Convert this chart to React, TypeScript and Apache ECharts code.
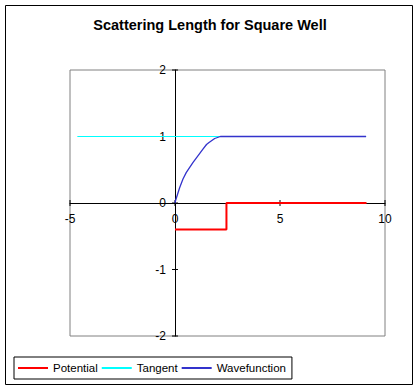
import React, { useEffect, useRef } from "react";
import * as echarts from "echarts";

const titleText = "Scattering Length for Square Well";
const seriesNames = ["Potential", "Tangent", "Wavefunction"];
const potentialX = [0, 2.45, 2.45, 9.12];
const potentialY = [-0.4, -0.4, 0, 0];
const tangentX = [-4.65, 9.1];
const tangentY = [1, 1];
const waveX = [0, 0.02, 0.22, 0.38, 0.54, 0.86, 1.02, 1.33, 1.5, 1.62, 1.89, 2.16, 2.24, 9.1];
const waveY = [0, 0.03, 0.23, 0.36, 0.46, 0.61, 0.68, 0.81, 0.88, 0.91, 0.97, 1.0, 1.0, 1.0];
const xMin = -5, xMax = 10, xStep = 5;
const yMin = -2, yMax = 2, yStep = 1;
const xTickValues = [-5, 0, 5, 10];
const yTickValues = [-2, -1, 0, 1, 2];

const pairs = (xs: number[], ys: number[]) => xs.map((x, i) => [x, ys[i]]);

export default function App() {
  const ref = useRef<HTMLDivElement>(null);
  useEffect(() => {
    if (!ref.current) return;
    const chart = echarts.init(ref.current, null, { renderer: "svg" });
    const font = "Liberation Sans, Arial, sans-serif";
    const axisLine = { show: true, onZero: true, lineStyle: { color: "#000", width: 1 } };
    const tickData = [
      ...xTickValues.map((v) => [v, 0, 0]),
      ...yTickValues.map((v) => [0, v, 1]),
    ];
    chart.setOption({
      animation: false,
      backgroundColor: "#fff",
      textStyle: { fontFamily: font },
      graphic: [
        {
          type: "rect",
          shape: { x: 5.5, y: 5.5, width: 407, height: 379 },
          style: { fill: "none", stroke: "#000", lineWidth: 1 },
          z: -1,
        },
      ],
      title: {
        text: titleText,
        left: "center",
        top: 12,
        textStyle: { fontSize: 14.5, fontWeight: "bold", color: "#000", fontFamily: font },
      },
      legend: {
        left: 14,
        top: 357,
        orient: "horizontal",
        borderColor: "#000",
        borderWidth: 1,
        padding: [5, 6, 5, 4],
        itemGap: 4,
        itemWidth: 30,
        itemHeight: 2,
        icon: "rect",
        textStyle: { fontSize: 11.5, color: "#000", fontFamily: font },
        data: seriesNames,
      },
      grid: {
        left: 70,
        right: 35,
        top: 70,
        bottom: 55,
        show: true,
        borderColor: "#808080",
        borderWidth: 1,
        backgroundColor: "transparent",
      },
      xAxis: {
        type: "value",
        min: xMin,
        max: xMax,
        interval: xStep,
        axisLine,
        axisTick: { show: false },
        axisLabel: { show: false },
        splitLine: { show: false },
      },
      yAxis: {
        type: "value",
        min: yMin,
        max: yMax,
        interval: yStep,
        axisLine,
        axisTick: { show: false },
        axisLabel: { show: false },
        splitLine: { show: false },
      },
      series: [
        {
          type: "custom",
          silent: true,
          data: tickData,
          z: 2,
          renderItem: (params: any, api: any) => {
            const v0 = api.value(0);
            const v1 = api.value(1);
            const p = api.coord([v0, v1]);
            const vertical = api.value(2) === 0;
            const shape = vertical
              ? { x1: p[0], y1: p[1] - 3, x2: p[0], y2: p[1] + 3 }
              : { x1: p[0] - 3, y1: p[1], x2: p[0] + 3, y2: p[1] };
            const label = vertical
              ? {
                  type: "text",
                  x: p[0],
                  y: p[1] + 10,
                  style: {
                    text: String(v0),
                    align: "center",
                    verticalAlign: "top",
                    fill: "#000",
                    font: `12px ${font}`,
                  },
                }
              : {
                  type: "text",
                  x: p[0] - 9,
                  y: p[1],
                  style: {
                    text: String(v1),
                    align: "right",
                    verticalAlign: "middle",
                    fill: "#000",
                    font: `12px ${font}`,
                  },
                };
            return {
              type: "group",
              children: [
                { type: "line", shape, style: { stroke: "#000", lineWidth: 1 } },
                label,
              ],
            };
          },
        },
        {
          name: seriesNames[0],
          type: "line",
          data: pairs(potentialX, potentialY),
          symbol: "none",
          color: "#FF0000",
          lineStyle: { color: "#FF0000", width: 2 },
          z: 3,
        },
        {
          name: seriesNames[1],
          type: "line",
          data: pairs(tangentX, tangentY),
          symbol: "none",
          color: "#00FFFF",
          lineStyle: { color: "#00FFFF", width: 1 },
          z: 4,
        },
        {
          name: seriesNames[2],
          type: "line",
          data: pairs(waveX, waveY),
          symbol: "none",
          color: "#3333CC",
          lineStyle: { color: "#3333CC", width: 1.3 },
          z: 5,
        },
      ],
    });
    return () => chart.dispose();
  }, []);
  return (
    <div
      ref={ref}
      style={{ position: "fixed", left: 0, top: 0, width: 420, height: 391 }}
    />
  );
}
